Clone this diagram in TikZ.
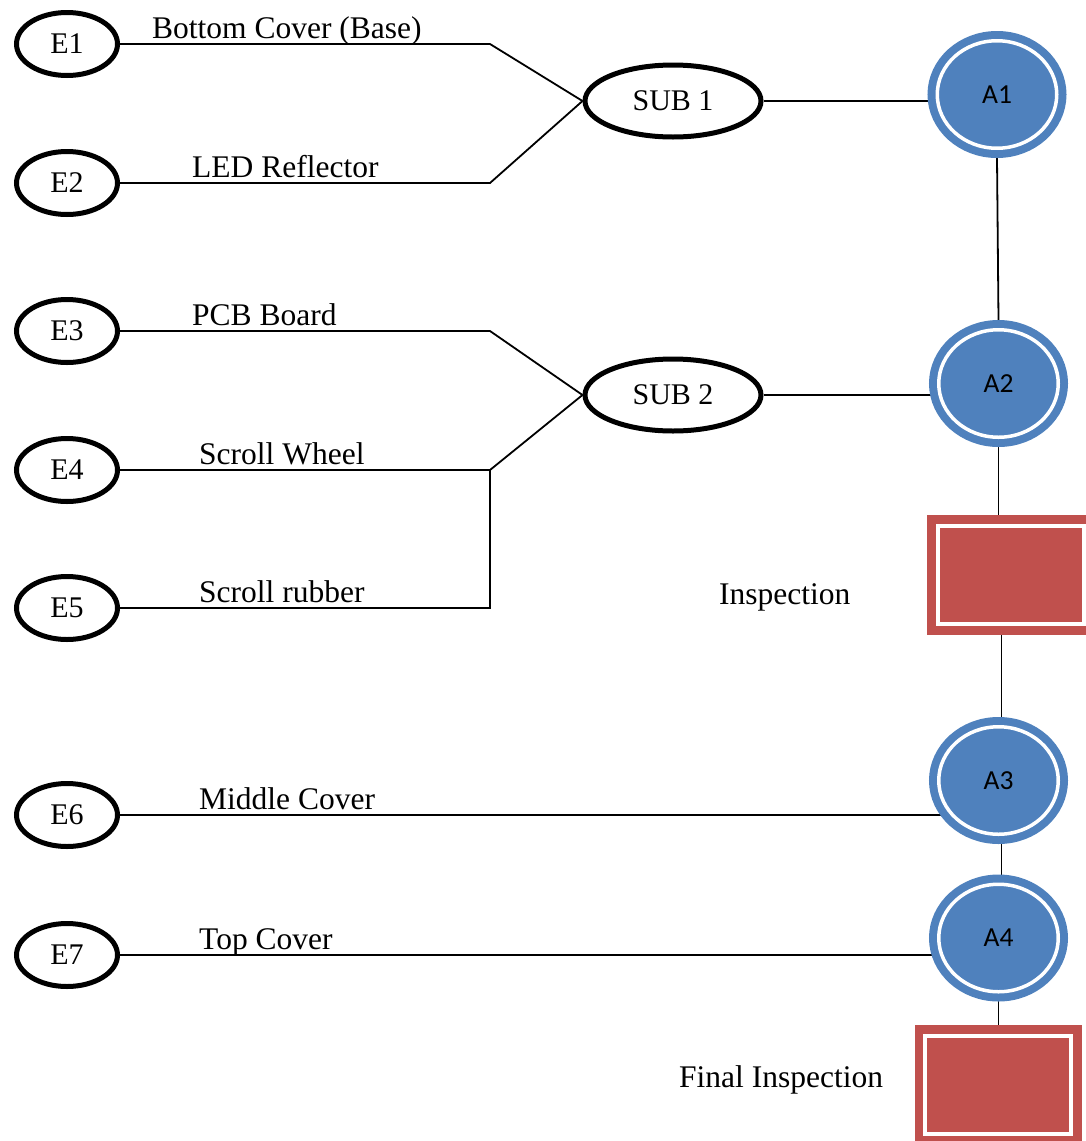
\documentclass[tikz,border=0pt]{standalone}
\usepackage{fontspec}
\setmainfont{Liberation Serif}
\newfontfamily\labelsans{Carlito}
\usetikzlibrary{shapes.geometric,backgrounds}
\definecolor{stepblue}{HTML}{4F81BD}
\definecolor{checkred}{HTML}{C0504D}
\begin{document}
\begin{tikzpicture}[x=1pt,y=-1pt,
  part/.style={ellipse, draw, line width=5pt, minimum width=101pt, minimum height=63pt,
    inner sep=0pt, font=\fontsize{30}{36}\selectfont},
  subpart/.style={ellipse, draw, line width=5pt, minimum width=176pt, minimum height=72pt,
    inner sep=0pt, font=\fontsize{30}{36}\selectfont},
  assy/.style={ellipse, fill=stepblue, draw=stepblue, line width=8pt, double=white,
    double distance=3.5pt, minimum width=119.5pt, minimum height=107.5pt, inner sep=0pt,
    outer sep=9.75pt, font=\labelsans\fontsize{27.5}{33}\selectfont},
  check/.style={rectangle, fill=checkred, draw=checkred, line width=8.5pt, double=white,
    double distance=4pt, minimum width=146pt, minimum height=98.5pt, inner sep=0pt,
    outer sep=10.5pt},
  conn/.style={line width=1.8pt},
  lbl/.style={anchor=base west, inner sep=0pt, font=\fontsize{31.5}{38}\selectfont}
]
\clip (0,0) rectangle (1086,1141);

% parts
\node[part] (E1) at (67,44)  {E1};
\node[part] (E2) at (67,183) {E2};
\node[part] (E3) at (67,331) {E3};
\node[part] (E4) at (67,470) {E4};
\node[part] (E5) at (67,608) {E5};
\node[part] (E6) at (67,815) {E6};
\node[part] (E7) at (67,955) {E7};

% sub-assemblies
\node[subpart] (SUB1) at (673,101) {SUB 1};
\node[subpart] (SUB2) at (673,395) {SUB 2};

% assembly stations
\node[assy] (A1) at (997,94.5)    {A1};
\node[assy] (A2) at (998.5,383.5) {A2};
\node[assy] (A3) at (998.5,780.5) {A3};
\node[assy] (A4) at (998.5,938)   {A4};

% inspection stations
\node[check] (I1) at (1010.5,575) {};
\node[check] (I2) at (998,1085)   {};

% junction column
\coordinate (jx) at (490,0);

% part labels
\node[lbl] (t1) at (152,38.5)  {Bottom Cover (Base)};
\node[lbl] (t2) at (192,177.5) {LED Reflector};
\node[lbl] (t3) at (192,325.5) {PCB Board};
\node[lbl] (t4) at (199,464.5) {Scroll Wheel};
\node[lbl] (t5) at (199,602.5) {Scroll rubber};
\node[lbl] (t6) at (199,809.5) {Middle Cover};
\node[lbl] (t7) at (199,949.5) {Top Cover};
\node[lbl] (t8) at (719,604)   {Inspection};
\node[lbl] (t9) at (679,1087)  {Final Inspection};

\begin{pgfonlayer}{background}
  \draw[conn] (E1.east) -- (E1.east -| jx) -- (SUB1.west);
  \draw[conn] (E2.east) -- (E2.east -| jx) -- (SUB1.west);
  \draw[conn] (E3.east) -- (E3.east -| jx) -- (SUB2.west);
  \draw[conn] (E4.east) -- (E4.east -| jx) -- (SUB2.west);
  \draw[conn] (E5.east) -- (E5.east -| jx) -- (E4.east -| jx);
  \draw[conn] (SUB1.east) -- (SUB1.east -| A1.center);
  \draw[conn] (SUB2.east) -- (SUB2.east -| A2.center);
  \draw[conn] (E6.east) -- (E6.east -| A3.center);
  \draw[conn] (E7.east) -- (E7.east -| A4.center);
  \draw[conn] (A1.south) -- (A2.north);
  \draw[conn] (A2.center) -- (A2.center |- I1.center);
  \draw[conn] ([xshift=3pt]A3.center |- I1.center) -- ([xshift=3pt]A3.center);
  \draw[conn] ([xshift=3pt]A3.center) -- ([xshift=3pt]A4.center);
  \draw[conn] (A4.center) -- (A4.center |- I2.center);
\end{pgfonlayer}
\end{tikzpicture}
\end{document}
